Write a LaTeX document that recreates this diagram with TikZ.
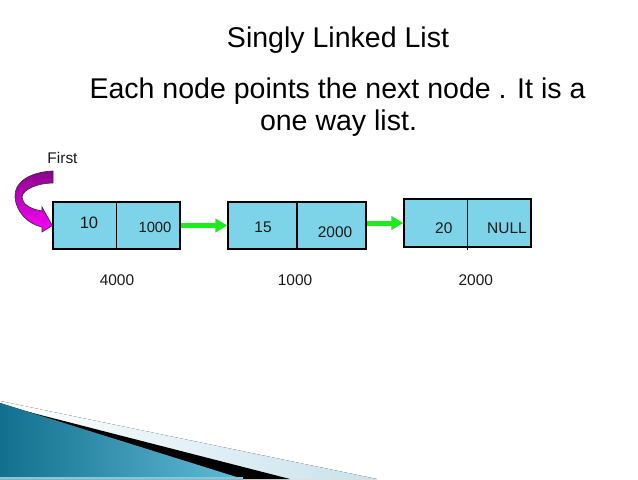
\documentclass[tikz,border=0pt]{standalone}
\usepackage{fontspec}
\setmainfont{Liberation Sans}
\usetikzlibrary{arrows.meta}
\definecolor{boxfill}{RGB}{125,212,232}
\definecolor{arrgreen}{RGB}{30,235,30}
\definecolor{purpdark}{RGB}{140,0,140}
\definecolor{purplight}{RGB}{255,0,255}
\definecolor{decodark}{RGB}{18,112,142}
\definecolor{decolightblue}{RGB}{98,188,214}
\definecolor{decopale}{RGB}{200,226,236}
\definecolor{decostrip}{RGB}{120,205,228}
\begin{document}
\begin{tikzpicture}[x=0.75pt,y=-0.75pt,
  listbox/.style={draw=black,line width=1pt,fill=boxfill,minimum height=35.25pt,inner sep=0pt},
  val/.style={anchor=base,font=\fontsize{11.6}{13}\selectfont,text=black!90,inner sep=0pt},
  heading/.style={anchor=base,font=\fontsize{21.4}{25}\selectfont,inner sep=0pt},
  link/.style={draw=arrgreen,line width=3.75pt,-{Triangle[length=9pt,width=10pt]}},
  divider/.style={draw=black,line width=1pt}]
\useasboundingbox (0,0) rectangle (638,479);
% bottom decoration
\fill[left color=white,right color=decopale] (0,401) -- (377,479) -- (0,479) -- cycle;
\fill[black] (25,411) -- (290,479) -- (0,479) -- cycle;
\fill[left color=decodark,right color=decolightblue] (0,403) -- (243,479) -- (0,479) -- cycle;
\fill[decostrip] (0,477) rectangle (243,479);
% headings
\node[heading] (title) at (338,47) {Singly Linked List};
\node[heading] (line1) at (337.5,98) {Each node points the next node . It is a};
\node[heading] (line2) at (338.5,130) {one way list.};
% boxes
\node[listbox,minimum width=95.25pt] (b1) at (116.5,225.5) {};
\node[listbox,minimum width=103.5pt] (b2) at (297,225.5) {};
\node[listbox,minimum width=95.25pt,minimum height=36pt] (b3) at (467.5,223) {};
\draw[divider] (b1.north) -- (b1.south);
\draw[divider] (b2.north) -- (b2.south);
\draw[divider] (b3.north) -- ([yshift=-1.5pt]b3.south);
% values
\node[val] (first) at (62.5,163) {First};
\node[val,font=\fontsize{12.4}{14}\selectfont] (v10) at (89,228) {10};
\node[val,font=\fontsize{11.1}{13}\selectfont] (p1000) at (155,232) {1000};
\node[val] (v15) at (263,232) {15};
\node[val] (p2000) at (335,237) {2000};
\node[val] (v20) at (443.8,233) {20};
\node[val] (pnull) at (507,233) {NULL};
\node[val] (a4000) at (117,285) {4000};
\node[val] (a1000) at (295,285) {1000};
\node[val] (a2000) at (475.8,285) {2000};
% links
\draw[link] (b1.east) -- (b2.west);
\draw[link] (b2.east |- b3.west) -- (b3.west);
% curved head pointer
\draw[draw=black!80,line width=0.5pt,top color=purpdark,bottom color=purplight]
  (53,171) .. controls (30,172) and (14,182) .. (15,197)
  .. controls (16,212) and (28,224) .. (42,227)
  -- (42,232) -- (b1.west) -- (42,207) -- (42,211)
  .. controls (30,209) and (22,204) .. (22,197)
  .. controls (23,189) and (38,183) .. (53,183) -- cycle;
\end{tikzpicture}
\end{document}
